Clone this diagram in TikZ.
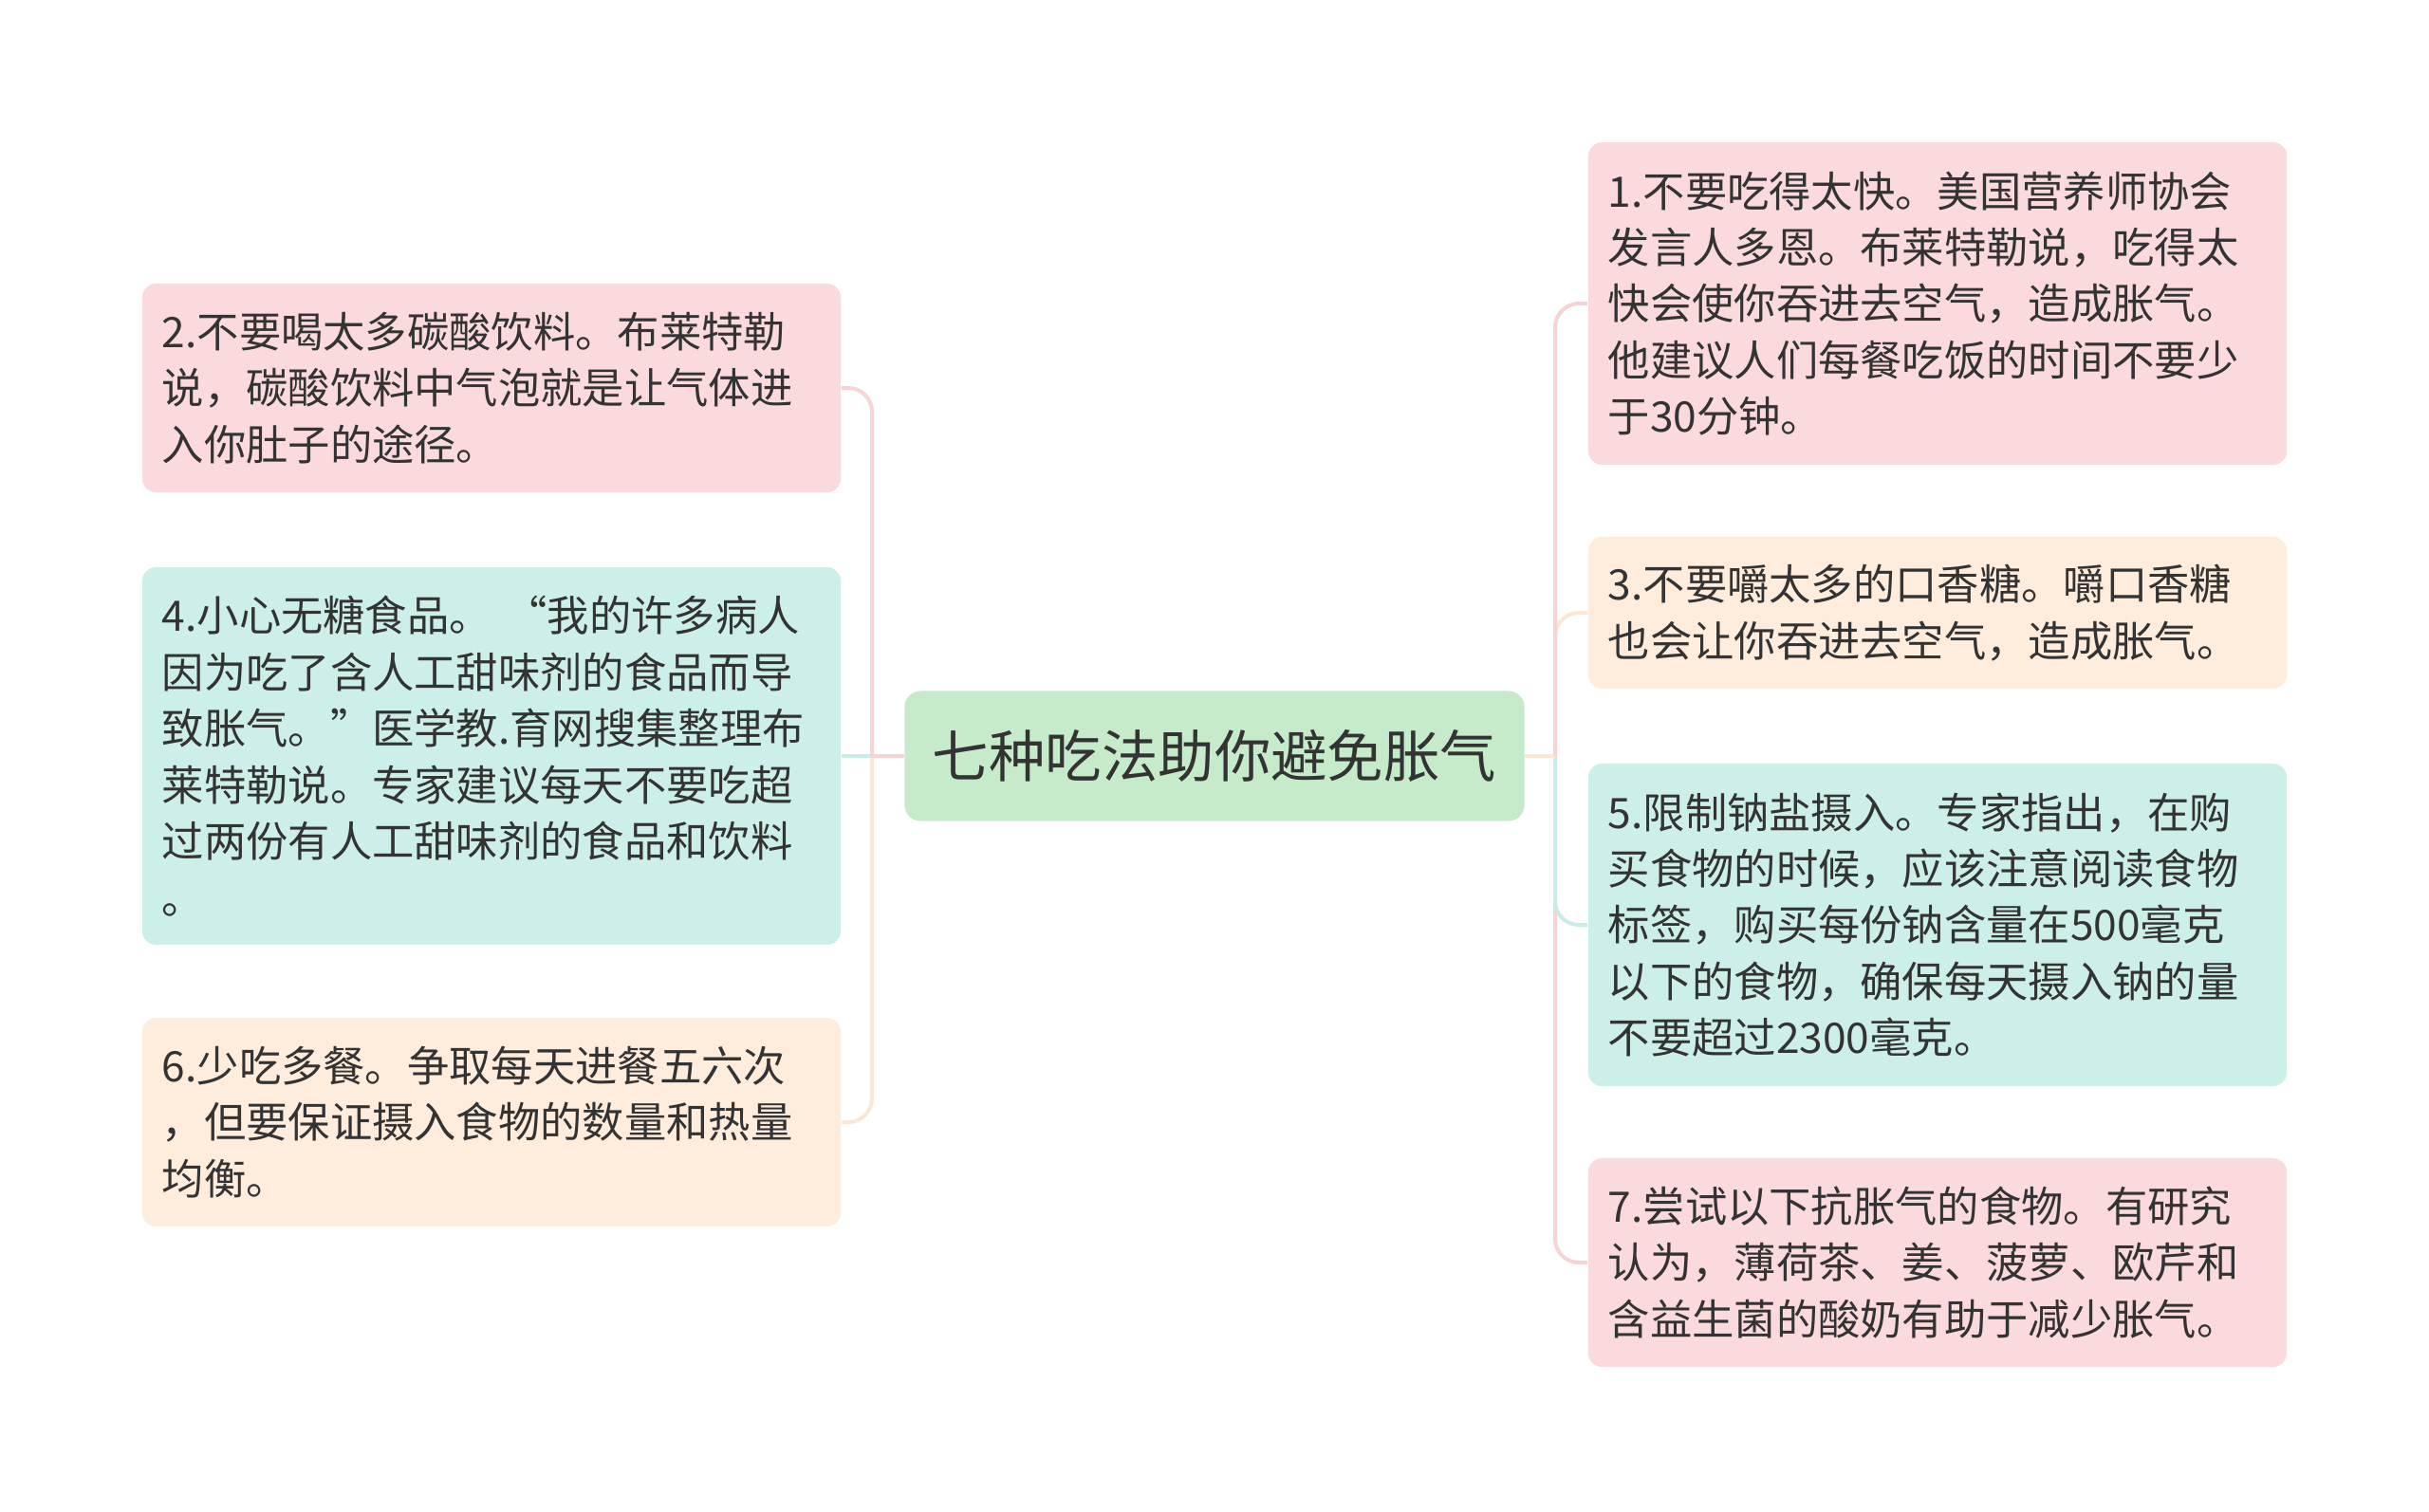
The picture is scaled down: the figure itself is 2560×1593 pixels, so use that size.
\documentclass[tikz,border=0pt]{standalone}
\usepackage{fontspec}
\setmainfont{Noto Sans CJK SC}
\usetikzlibrary{positioning}

\definecolor{textgray}{HTML}{333333}
\definecolor{topicfill}{HTML}{C6EBCA}
\definecolor{pinkfill}{HTML}{FADADC}
\definecolor{tealfill}{HTML}{CDEFE9}
\definecolor{peachfill}{HTML}{FEEDDC}
\definecolor{pinkline}{HTML}{F7D3D5}
\definecolor{tealline}{HTML}{C9EDE6}
\definecolor{peachline}{HTML}{FCE7D5}

\newcommand{\leaffont}{\fontsize{12.6}{16.9}\selectfont}
\newcommand{\topicfont}{\fontsize{16.9}{20}\selectfont}

\begin{document}
\begin{tikzpicture}[x=0.01cm, y=-0.01cm,
    topic/.style={fill=topicfill, rounded corners=0.17cm, minimum width=6.53cm, minimum height=1.37cm, font=\topicfont, text=textgray, inner sep=0},
    leaf/.style={rounded corners=0.15cm, text width=6.94cm, inner xsep=0.21cm, inner ysep=0, align=left, font=\leaffont, text=textgray},
    branch/.style={line width=0.04cm},
    elbow/.style={line width=0.04cm, rounded corners=0.25cm}]
    \useasboundingbox (0,0) rectangle (2560,1593);

    \node[topic] (topic) at (1280,797) {七种吃法助你避免胀气};

    \node[leaf, fill=pinkfill, minimum height=2.20cm] (eat2) at (518,409) {2.不要喝太多碳酸饮料。布莱特勒\\说，碳酸饮料中气泡就是让气体进\\入你肚子的途径。};
    \node[leaf, fill=tealfill, minimum height=3.98cm] (eat4) at (518,797) {4.小心无糖食品。~“我的许多病人\\因为吃了含人工甜味剂的食品而导\\致胀气。”医学教.育网搜集整理布\\莱特勒说。专家建议每天不要吃超\\过两份有人工甜味剂的食品和饮料\\。};
    \node[leaf, fill=peachfill, minimum height=2.20cm] (eat6) at (518,1183) {6.少吃多餐。争取每天进餐五六次\\，但要保证摄入食物的数量和热量\\均衡。};

    \node[leaf, fill=pinkfill, minimum height=3.40cm] (eat1) at (2042,320) {1.不要吃得太快。美国营养师协会\\发言人多恩。布莱特勒说，吃得太\\快会使你吞进去空气，造成胀气。\\他建议人们每餐吃饭的时间不要少\\于30分钟。};
    \node[leaf, fill=peachfill, minimum height=1.60cm] (eat3) at (2042,646) {3.不要嚼太多的口香糖。嚼口香糖\\也会让你吞进去空气，造成胀气。};
    \node[leaf, fill=tealfill, minimum height=3.40cm] (eat5) at (2042,975) {5.限制钠盐摄入。专家指出，在购\\买食物的时候，应该注意阅读食物\\标签，购买每份钠含量在500毫克\\以下的食物，确保每天摄入钠的量\\不要超过2300毫克。};
    \node[leaf, fill=pinkfill, minimum height=2.20cm] (eat7) at (2042,1331) {7.尝试以下抗胀气的食物。有研究\\认为，薄荷茶、姜、菠萝、欧芹和\\含益生菌的酸奶有助于减少胀气。};

    \coordinate (lj) at (919,797);
    \coordinate (rj) at (1639,797);

    \draw[branch, peachline] (topic.west) -- (lj);
    \draw[elbow, peachline] (lj) |- (eat6.east);
    \draw[branch, tealline] (topic.west) -- (eat4.east);
    \draw[branch, pinkline] (topic.west) -- (lj);
    \draw[elbow, pinkline] (lj) |- (eat2.east);

    \draw[branch, pinkline] (topic.east) -- (rj);
    \draw[elbow, pinkline] (rj) |- (eat7.west);
    \draw[elbow, tealline] (rj) |- (eat5.west);
    \draw[elbow, peachline] (rj) |- (eat3.west);
    \draw[branch, peachline] (topic.east) -- (rj);
    \draw[elbow, pinkline] (rj) |- (eat1.west);
\end{tikzpicture}
\end{document}
